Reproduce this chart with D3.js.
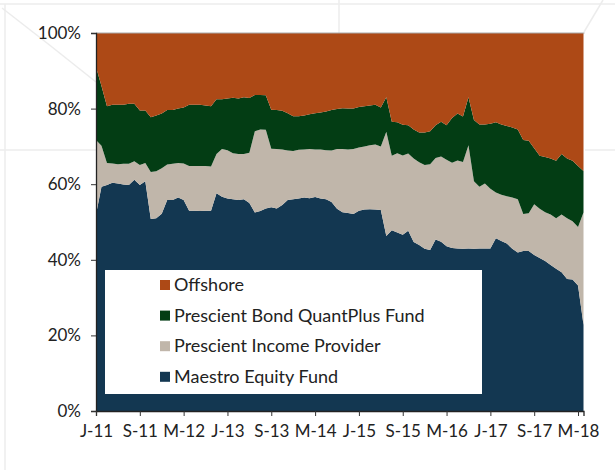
<!DOCTYPE html>
<html lang="en">
<head>
    <meta charset="utf-8">
    <title>Portfolio allocation</title>
    <script src="https://cdn.jsdelivr.net/npm/d3@7"></script>
    <style>
        body { margin: 0; background: #fff; }
        text { font-family: Lato, "Noto Sans", sans-serif; fill: #222; }
    </style>
</head>
<body>
<script>

// monthly categories, Jan 2011 .. Jun 2018
var months = d3.timeMonth.range(new Date(2011, 0, 1), new Date(2018, 6, 1));

var tickLabels = ["J-11", "S-11", "M-12", "J-13", "S-13", "M-14", "J-15", "S-15", "M-16", "J-17", "S-17", "M-18"];
var yTicks = [0, 0.2, 0.4, 0.6, 0.8, 1];

var seriesNames = ["Maestro Equity Fund", "Prescient Income Provider", "Prescient Bond QuantPlus Fund", "Offshore"];
var colors = ["#133751", "#c0b6aa", "#033d14", "#ad4916"];

// shares in %
var maestro = [52, 59.3, 59.8, 60.4, 60.2, 59.9, 59.8, 61.2, 59.8, 60.8,
    50.8, 51, 52.2, 55.8, 55.8, 56.5, 55.8, 53, 53, 52.9,
    53, 53, 57.6, 56.7, 56.2, 56, 55.8, 56, 55, 52.5,
    52.9, 53.6, 53.9, 53.6, 54.5, 55.8, 56, 56.2, 56.5, 56.3,
    56.6, 56.2, 56, 55.3, 53.5, 52.6, 52.4, 52.1, 53, 53.3,
    53.4, 53.3, 53.2, 46.3, 47.8, 47.2, 46.6, 47.7, 44.7, 43.9,
    42.9, 42.6, 45.4, 44.8, 43.6, 43.1, 43, 42.9, 43, 42.9,
    43, 43, 43, 45.7, 45, 44.3, 42.9, 41.9, 42.3, 42.3,
    41.3, 40.5, 39.7, 38.6, 37.6, 36.7, 34.9, 34.8, 33.2, 22.8];

var income = [19.7, 10.9, 5.8, 5.1, 5.1, 5.5, 5.6, 4.9, 5.3, 4.8,
    12.4, 12.4, 12, 9.4, 9.6, 9.1, 9.7, 11.8, 11.8, 11.9,
    11.8, 11.7, 10.4, 12.6, 12.8, 12.2, 12.2, 12, 13.3, 21.5,
    21.6, 20.8, 15.5, 15.7, 14.7, 13.1, 12.8, 12.9, 12.7, 13,
    12.6, 13, 13, 13.6, 15.8, 16.7, 16.8, 17.2, 16.7, 16.7,
    16.9, 17.2, 16.8, 27.6, 19.7, 21, 21, 20.4, 22.1, 21.9,
    22.2, 22.7, 21.5, 22.5, 22.9, 22.6, 23.3, 23, 27.3, 17.9,
    16.3, 17.2, 15.8, 12.1, 12.2, 12.5, 13.6, 14.1, 9.8, 10,
    13.4, 13, 12.9, 13.4, 13.4, 15.3, 16.1, 15.4, 15.5, 29.7];

var bond = [19.3, 15.8, 15, 15.5, 15.7, 15.6, 15.9, 15.2, 14.4, 13.9,
    14.5, 14.8, 14.5, 14.4, 14.2, 14.4, 14.8, 16.2, 16.2, 16.2,
    16, 15.9, 14.5, 13.2, 13.7, 14.7, 14.7, 15, 14.5, 9.6,
    9.1, 9.1, 10.3, 10.3, 10.2, 9.9, 9.2, 8.9, 9, 9.2,
    9.6, 9.8, 10.2, 10.7, 10.6, 10.8, 10.8, 10.7, 10.7, 10.6,
    10.5, 10.5, 10.3, 9.1, 9, 8.2, 8.1, 7.5, 7.7, 7.9,
    8.6, 8.7, 8.7, 9.2, 9.1, 11.8, 12.4, 12, 12.7, 16.2,
    16.5, 15.6, 17.2, 18.6, 18.6, 18.6, 18.5, 18.5, 19.6, 19.2,
    14.8, 14, 14.6, 14.8, 15.2, 16, 15.8, 16, 16.1, 11];

var offshore = [9, 14, 19.4, 19, 19, 19, 18.7, 18.7, 20.5, 20.5,
    22.3, 21.8, 21.3, 20.4, 20.4, 20, 19.7, 19, 19, 19,
    19.2, 19.4, 17.5, 17.5, 17.3, 17.1, 17.3, 17, 17.2, 16.4,
    16.4, 16.5, 20.3, 20.4, 20.6, 21.2, 22, 22, 21.8, 21.5,
    21.2, 21, 20.8, 20.4, 20.1, 19.9, 20, 20, 19.6, 19.4,
    19.2, 19, 19.7, 17, 23.5, 23.6, 24.3, 24.4, 25.5, 26.3,
    26.3, 26, 24.4, 23.5, 24.4, 22.5, 21.3, 22.1, 17, 23,
    24.2, 24.2, 24, 23.6, 24.2, 24.6, 25, 25.5, 28.3, 28.5,
    30.5, 32.5, 32.8, 33.2, 33.8, 32, 33.2, 33.8, 35.2, 36.5];

var w = 615, h = 470;
var plotL = 96, plotR = 583.5, plotT = 33, plotB = 411;

var svg = d3.select("body").append("svg")
    .attr("width", w)
    .attr("height", h);

// faint background artwork of the slide
var deco = svg.append("g").attr("stroke", "#ececec").attr("fill", "none").attr("stroke-width", 1.5);
deco.append("path").attr("d", "M0,4 L615,4");
deco.append("path").attr("d", "M5,4 L5,470");
deco.append("path").attr("d", "M0,150 L96,150");
deco.append("path").attr("d", "M585,150 L615,150");
deco.append("path").attr("d", "M339,0 L339,33");
deco.append("path").attr("d", "M603,0 L584,32");
deco.append("path").attr("d", "M2,8 Q50,45 96,82");

var rows = months.map(function(m, i) {
    return {
        month: m,
        maestro: maestro[i] / 100,
        income: income[i] / 100,
        bond: bond[i] / 100,
        offshore: offshore[i] / 100
    };
});

var keys = ["maestro", "income", "bond", "offshore"];
var stacked = d3.stack().keys(keys)(rows);

var x = d3.scalePoint()
    .domain(months.map(function(d) { return +d; }))
    .range([plotL, plotR])
    .padding(0);

var y = d3.scaleLinear()
    .domain([0, 1])
    .range([plotB, plotT]);

var area = d3.area()
    .x(function(d) { return x(+d.data.month); })
    .y0(function(d) { return y(d[0]); })
    .y1(function(d) { return y(d[1]); });

svg.selectAll("path.layer")
    .data(stacked)
    .enter()
    .append("path")
    .attr("class", "layer")
    .attr("d", area)
    .attr("fill", function(d, i) { return colors[i]; });

// top border of plot
svg.append("line")
    .attr("x1", plotL).attr("x2", plotR + 1)
    .attr("y1", plotT).attr("y2", plotT)
    .attr("stroke", "#a9a9a9")
    .attr("stroke-width", 1);

// y axis
var yAxis = d3.axisLeft(y)
    .tickValues(yTicks)
    .tickSize(5)
    .tickPadding(10)
    .tickFormat(d3.format(".0%"));

var gy = svg.append("g")
    .attr("transform", "translate(" + plotL + ",0)")
    .call(yAxis);
gy.select(".domain").attr("stroke", "#222").attr("stroke-width", 1.3);
gy.selectAll(".tick line").attr("stroke", "#333");
gy.selectAll("text").attr("font-size", 17).attr("fill", "#222")
    .style("font-family", "Lato, 'Noto Sans', sans-serif");

// x axis, one label every 8 months
var tickMonths = months.filter(function(d, i) { return i % 8 === 0; }).map(function(d) { return +d; });

var xAxis = d3.axisBottom(x)
    .tickValues(tickMonths)
    .tickSize(5)
    .tickPadding(9)
    .tickFormat(function(d, i) { return tickLabels[i]; });

var gx = svg.append("g")
    .attr("transform", "translate(0," + plotB + ")")
    .call(xAxis);
gx.select(".domain").attr("stroke", "#222").attr("stroke-width", 1.3);
gx.selectAll(".tick line").attr("stroke", "#333");
gx.selectAll("text").attr("font-size", 17).attr("fill", "#222")
    .style("font-family", "Lato, 'Noto Sans', sans-serif");

// legend
var legend = svg.append("g");
legend.append("rect")
    .attr("x", 105).attr("y", 270)
    .attr("width", 377).attr("height", 124)
    .attr("fill", "#fff");

var legendOrder = [3, 2, 1, 0];
var item = legend.selectAll("g.item")
    .data(legendOrder)
    .enter()
    .append("g")
    .attr("class", "item")
    .attr("transform", function(d, i) { return "translate(160," + (285 + i * 30.6) + ")"; });

item.append("rect")
    .attr("x", 0).attr("y", -5)
    .attr("width", 10).attr("height", 10)
    .attr("fill", function(d) { return colors[d]; });

item.append("text")
    .attr("x", 14).attr("y", 6)
    .attr("font-size", 18)
    .text(function(d) { return seriesNames[d]; });

</script>
</body>
</html>
